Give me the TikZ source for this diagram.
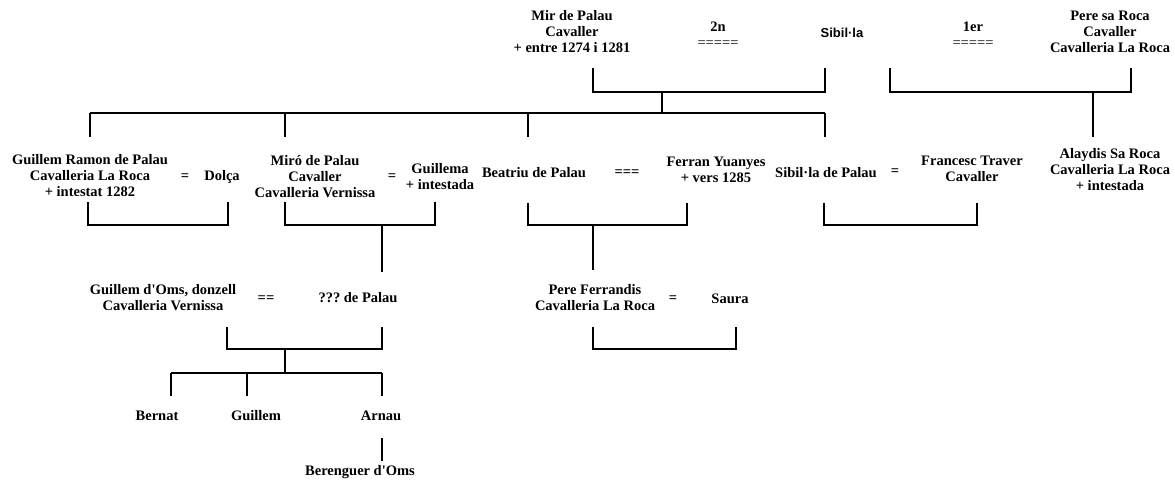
\documentclass[tikz,border=0pt]{standalone}
\usepackage{fontspec}
\setmainfont{Liberation Serif}
\newfontfamily\sansname{Liberation Sans}
\usetikzlibrary{positioning}
\frenchspacing
\tikzset{
  person/.style={font=\fontsize{14.5}{16}\selectfont\bfseries, align=center, inner sep=0pt},
  marr/.style={font=\fontsize{14.5}{16}\selectfont\bfseries, inner sep=0pt},
  link/.style={line width=2pt},
}
\begin{document}
\begin{tikzpicture}[x=1pt,y=-1pt]
\useasboundingbox (0,0) rectangle (1175,482);
% first generation
\node[person] (mir) at (572,32) {Mir de Palau\\Cavaller\\+ entre 1274 i 1281};
\node[person] (snd) at (718,35) {2n\\{\mdseries =====}};
\node[person,font=\fontsize{13}{16}\selectfont\sansname\bfseries] (sib) at (842,33) {Sibil·la};
\node[person] (fst) at (973,35) {1er\\{\mdseries =====}};
\node[person] (pere) at (1110,32) {Pere sa Roca\\Cavaller\\Cavalleria La Roca};
% second generation
\node[person] (guillemR) at (90,176) {Guillem Ramon de Palau\\Cavalleria La Roca\\+ intestat 1282};
\node[marr] (eqA) at (185,177) {=};
\node[person] (dolca) at (222,177) {Dolça};
\node[person] (miro) at (315,177) {Miró de Palau\\Cavaller\\Cavalleria Vernissa};
\node[marr] (eqB) at (392,177) {=};
\node[person] (guillema) at (440,177) {Guillema\\+ intestada};
\node[person] (beatriu) at (534,173) {Beatriu de Palau};
\node[marr] (eqC) at (627,173) {===};
\node[person] (ferran) at (716,170) {Ferran Yuanyes\\+ vers 1285};
\node[person] (sibP) at (826,173) {Sibil·la de Palau};
\node[marr] (eqD) at (895,172) {=};
\node[person] (francesc) at (972,169) {Francesc Traver\\Cavaller};
\node[person] (alaydis) at (1110,170) {Alaydis Sa Roca\\Cavalleria La Roca\\+ intestada};
% third generation
\node[person] (guillemO) at (163,298) {Guillem d\textquotesingle Oms, donzell\\Cavalleria Vernissa};
\node[marr] (eqE) at (266,299) {==};
\node[person] (palauX) at (358,298) {??? de Palau};
\node[person] (pereF) at (595,298) {Pere Ferrandis\\Cavalleria La Roca};
\node[marr] (eqF) at (673,299) {=};
\node[person] (saura) at (730,299) {Saura};
% fourth and fifth generation
\node[person] (bernat) at (157,416) {Bernat};
\node[person] (guillem) at (256,416) {Guillem};
\node[person] (arnau) at (381,416) {Arnau};
\node[person] (berenguer) at (360,472) {Berenguer d\textquotesingle Oms};

% bracket ends
\coordinate (mirL) at (593,68);  \coordinate (sibR) at (825,68);
\coordinate (sibL) at (890,68);  \coordinate (pereR) at (1131,68);
\coordinate (famA) at (662,92);  \coordinate (famB) at (1093,92);
\coordinate (rowL) at (90,113);  \coordinate (rowR) at (825,113);
\coordinate (grL) at (88,202);   \coordinate (dolR) at (228,202);
\coordinate (miL) at (285,202);  \coordinate (gaR) at (435,202);
\coordinate (beL) at (528,203);  \coordinate (feR) at (687,203);
\coordinate (spL) at (824,203);  \coordinate (frR) at (977,203);
\coordinate (famC) at (382,225); \coordinate (famD) at (593,225);
\coordinate (goL) at (227,327);  \coordinate (pxR) at (382,327);
\coordinate (pfL) at (593,327);  \coordinate (saR) at (736,327);
\coordinate (famE) at (285,349);
\coordinate (kidL) at (171,373); \coordinate (kidR) at (382,373);

\draw[link] (mirL) -- ++(0,24) -| (sibR);
\draw[link] (sibL) -- ++(0,24) -| (pereR);
\draw[link] (famA) -- (famA |- rowL);
\draw[link] (rowL) -- (rowR);
\foreach \x in {90,285,528,825} {
  \draw[link] (\x,113) -- (\x,137);
}
\draw[link] (famB) -- (1093,137);
\draw[link] (grL) -- ++(0,23) -| (dolR);
\draw[link] (miL) -- ++(0,23) -| (gaR);
\draw[link] (beL) -- ++(0,22) -| (feR);
\draw[link] (spL) -- ++(0,22) -| (frR);
\draw[link] (famC) -- (382,272);
\draw[link] (famD) -- (593,270);
\draw[link] (goL) -- ++(0,22) -| (pxR);
\draw[link] (pfL) -- ++(0,22) -| (saR);
\draw[link] (famE) -- (famE |- kidL);
\draw[link] (kidL) -- (kidR);
\foreach \x in {171,247,382} {
  \draw[link] (\x,373) -- (\x,396);
}
\draw[link] (382,438) -- (382,461);
\end{tikzpicture}
\end{document}
